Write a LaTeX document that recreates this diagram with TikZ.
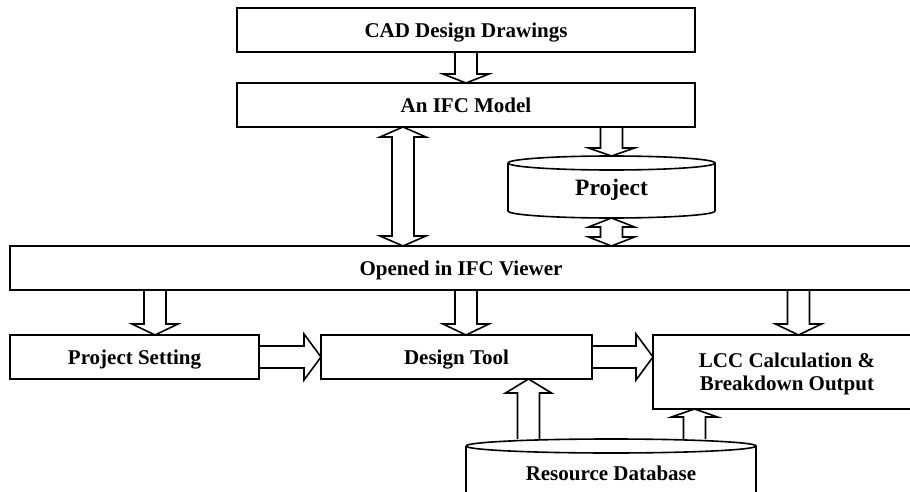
\documentclass[tikz,border=0pt]{standalone}
\usepackage{fontspec}
\setmainfont{Liberation Serif}
\usetikzlibrary{calc}

% outline of a drum (database) round a plain node
\newcommand{\drum}[1]{%
  \draw let \p1=(#1.north west), \p2=(#1.south east), \n1={(\x2-\x1)/2} in
    (\x1,\y1-7pt) arc[start angle=180, end angle=-180, x radius=\n1, y radius=7pt]
    (\x1,\y1-7pt) -- (\x1,\y2+7pt)
    arc[start angle=180, end angle=360, x radius=\n1, y radius=7pt] -- (\x2,\y1-7pt);}

\begin{document}
\begin{tikzpicture}[
    x=1pt, y=-1pt,
    line width=1.6pt,
    every node/.style={font=\fontsize{21}{23}\selectfont\bfseries, text depth=0pt},
    box/.style={draw, rectangle, minimum height=44pt, outer sep=0pt, inner sep=2pt},
    drumnode/.style={rectangle, outer sep=0pt, inner sep=0pt},
    fatdown/.style={to path={let \p1=(\tikztostart), \p2=(\tikztotarget) in
        (\x2-11pt,\y1) -- (\x2-11pt,\y2+#1) -- (\x2-23pt,\y2+#1) -- (\x2,\y2)
        -- (\x2+23pt,\y2+#1) -- (\x2+11pt,\y2+#1) -- (\x2+11pt,\y1)}},
    fatdown/.default=11pt,
    fatup/.style={to path={let \p1=(\tikztostart), \p2=(\tikztotarget) in
        (\x2-11pt,\y1) -- (\x2-11pt,\y2-#1) -- (\x2-23pt,\y2-#1) -- (\x2,\y2)
        -- (\x2+23pt,\y2-#1) -- (\x2+11pt,\y2-#1) -- (\x2+11pt,\y1)}},
    fatup/.default=11pt,
    fatright/.style={to path={let \p1=(\tikztostart), \p2=(\tikztotarget) in
        (\x1,\y1+11pt) -- (\x2-#1,\y1+11pt) -- (\x2-#1,\y1+23pt) -- (\x2,\y1)
        -- (\x2-#1,\y1-23pt) -- (\x2-#1,\y1-11pt) -- (\x1,\y1-11pt)}},
    fatright/.default=17pt,
    fatboth/.style={to path={let \p1=(\tikztostart), \p2=(\tikztotarget) in
        (\x1,\y1) -- (\x1+23pt,\y1-#1) -- (\x1+11pt,\y1-#1) -- (\x1+11pt,\y2+#1)
        -- (\x1+23pt,\y2+#1) -- (\x1,\y2) -- (\x1-23pt,\y2+#1) -- (\x1-11pt,\y2+#1)
        -- (\x1-11pt,\y1-#1) -- (\x1-23pt,\y1-#1) -- cycle}},
    fatboth/.default=10pt,
]
\useasboundingbox (0,0) rectangle (910,492);
\clip (0,0) rectangle (910,492);

% top of the chain
\node[box, minimum width=458pt] (cad) at (466,30) {CAD Design Drawings};
\node[box, minimum width=458pt] (ifc) at (466,105) {An IFC Model};
\node[drumnode, minimum width=207pt, minimum height=62pt, font=\fontsize{23.5}{26}\selectfont\bfseries]
    (project) at (611.5,187) {Project};
\drum{project}

% viewer
\node[box, minimum width=902pt] (viewer) at (461,268) {Opened in IFC Viewer};

% bottom row
\node[box, minimum width=249pt] (setting) at (134.5,357) {Project Setting};
\node[box, minimum width=271pt] (tool) at (456.5,357) {Design Tool};
\node[box, minimum width=268pt, minimum height=74pt, align=center]
    (lcc) at (787,372) {LCC Calculation \&\\Breakdown Output};
\node[drumnode, minimum width=290pt, minimum height=68pt] (db) at (611,473) {Resource Database};
\drum{db}

% block arrows
\draw[fatdown=9pt] (cad.south) to (ifc.north);
\draw[fatdown=8pt] (ifc.south) to (project.north);
\draw[fatboth] ([xshift=-63pt]ifc.south) to (viewer.north);
\draw[fatboth=9pt] (project.south) to (viewer.north);
\draw[fatdown] (viewer.south) to ([xshift=20.5pt]setting.north);
\draw[fatdown] (viewer.south) to ([xshift=9.5pt]tool.north);
\draw[fatdown] (viewer.south) to ([xshift=11.5pt]lcc.north);
\draw[fatright] (setting.east) to (tool.west);
\draw[fatright] (tool.east) to (lcc.west);
\draw[fatup=14pt] (db.north) to ([xshift=72pt]tool.south);
\draw[fatup=8pt] (db.north) to ([xshift=-92.5pt]lcc.south);

\end{tikzpicture}
\end{document}
